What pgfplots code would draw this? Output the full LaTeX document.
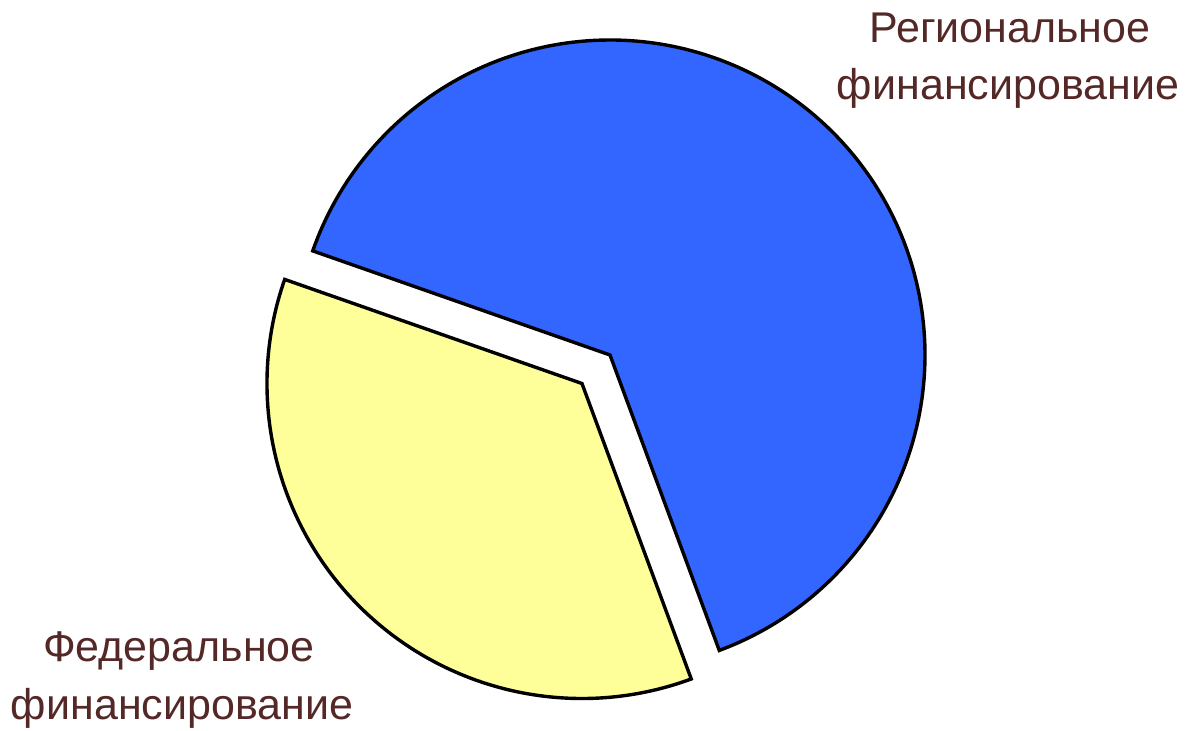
\documentclass[border=0pt]{standalone}
\usepackage{pgfplots}
\usepackage{pgfplotstable}
\pgfplotsset{compat=1.18}
\usepackage{fontspec}
\setmainfont{Liberation Sans}

\definecolor{regblue}{RGB}{51,102,255}
\definecolor{fedyellow}{RGB}{255,255,153}
\definecolor{labelbrown}{RGB}{85,40,40}

% shares in percent
\pgfplotstableread{
name share
federal 36
regional 64
}\piedata

\begin{document}
\begin{tikzpicture}
\pgfplotstablegetelem{0}{share}\of\piedata \let\fedshare\pgfplotsretval
\pgfplotstablegetelem{1}{share}\of\piedata \let\regshare\pgfplotsretval
% geometry in pixel units of the picture
\pgfmathsetmacro{\rad}{315}
\pgfmathsetmacro{\cx}{610}
\pgfmathsetmacro{\cy}{376}
\pgfmathsetmacro{\astart}{160.7}
\pgfmathsetmacro{\amid}{\astart+3.6*\fedshare}
\pgfmathsetmacro{\aend}{\astart+360}
\pgfmathsetmacro{\fedmid}{\astart+1.8*\fedshare}
\pgfmathsetmacro{\fx}{\cx+40*cos(\fedmid)}
\pgfmathsetmacro{\fy}{\cy+40*sin(\fedmid)}
\begin{axis}[
  width=593.5pt, height=365.5pt, scale only axis,
  xmin=0, xmax=1187, ymin=0, ymax=731,
  hide axis, clip=false, xtick=\empty, ytick=\empty,
  every axis plot/.append style={draw=black, line width=1.7pt, samples=181, variable=\t},
]
\coordinate (bl) at (rel axis cs:0,0);
\coordinate (tr) at (rel axis cs:1,1);
% regional slice
\addplot[fill=regblue, domain=\amid:\aend]
  ({\cx+\rad*cos(t)},{\cy+\rad*sin(t)}) -- (axis cs:\cx,\cy) -- cycle;
% federal slice, pulled out
\addplot[fill=fedyellow, domain=\astart:\amid]
  ({\fx+\rad*cos(t)},{\fy+\rad*sin(t)}) -- (axis cs:\fx,\fy) -- cycle;

\begin{scope}[every node/.style={anchor=base, text=labelbrown, font=\fontsize{21.5}{25}\selectfont}]
\node at (axis cs:1010,688) {Региональное};
\node at (axis cs:1008,631) {финансирование};
\node at (axis cs:179,69) {Федеральное};
\node at (axis cs:182,11) {финансирование};
\end{scope}
\end{axis}
\pgfresetboundingbox
\useasboundingbox (bl) rectangle (tr);
\end{tikzpicture}
\end{document}
